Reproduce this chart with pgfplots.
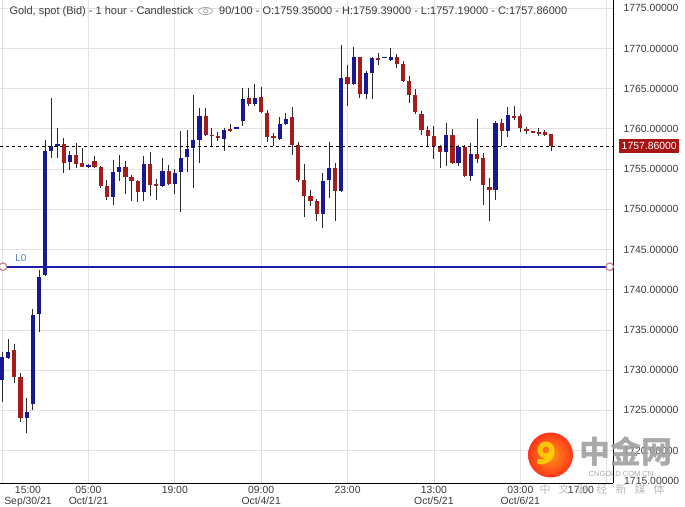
\documentclass[border=0pt]{standalone}
\usepackage{pgfplots}
\pgfplotsset{compat=1.18}
\usepackage{pgfplotstable}
\usepackage{fontspec}
\setmainfont{Liberation Sans}
\newfontfamily\cjk{Noto Sans CJK SC}
\definecolor{upc}{HTML}{181896}
\definecolor{dnc}{HTML}{A51C1C}
\definecolor{wickc}{HTML}{2A2A2A}
\definecolor{gridc}{HTML}{E2E2E2}
\definecolor{labc}{HTML}{3A3A3A}
\definecolor{l0c}{HTML}{1E1EA8}
\definecolor{l0txt}{HTML}{5B7FC0}
\definecolor{ringc}{HTML}{C07080}
\definecolor{boxc}{HTML}{A81414}
\definecolor{wmgray}{HTML}{A0A0A0}

\pgfplotstableread{
i o h l c
0 1728.8 1732.3 1726.1 1731.6
1 1731.5 1733.9 1731.4 1732.3
4 1724.1 1726.5 1722.2 1724.8
5 1725.8 1737.6 1725.1 1736.9
6 1737.0 1742.5 1734.8 1741.6
7 1741.9 1758.6 1741.7 1757.2
8 1757.3 1763.9 1756.4 1757.9
9 1757.9 1760.1 1756.4 1758.1
11 1755.9 1757.2 1754.9 1756.8
14 1755.3 1755.6 1755.2 1755.5
18 1751.5 1756.2 1750.5 1754.6
19 1754.6 1756.8 1753.5 1755.3
23 1752.1 1756.6 1751.0 1755.6
26 1752.9 1756.4 1752.8 1754.8
28 1753.2 1755.0 1751.9 1754.5
29 1754.6 1759.7 1749.7 1756.4
30 1756.5 1759.9 1754.6 1757.5
31 1757.6 1764.2 1752.7 1758.6
32 1758.6 1762.6 1755.8 1761.6
36 1758.8 1760.1 1757.2 1759.8
38 1760.0 1760.2 1760.0 1760.2
39 1761.0 1765.1 1760.3 1763.7
41 1763.1 1765.6 1762.8 1763.9
45 1758.8 1761.5 1758.6 1760.6
46 1760.6 1762.0 1760.5 1761.3
52 1749.4 1754.5 1747.7 1753.5
53 1753.6 1758.4 1751.4 1755.1
55 1752.3 1770.5 1752.2 1766.4
57 1765.6 1770.2 1765.5 1769.0
59 1764.3 1767.2 1763.7 1767.0
60 1767.0 1769.0 1763.7 1768.8
62 1768.8 1769.0 1768.8 1769.0
63 1768.6 1770.0 1768.4 1768.9
72 1757.1 1760.7 1755.4 1759.2
74 1755.8 1758.0 1755.4 1757.8
76 1754.2 1758.2 1753.5 1756.9
80 1752.4 1761.0 1751.2 1760.7
82 1759.8 1762.7 1759.0 1761.7
}\up

\pgfplotstableread{
i o h l c
2 1732.5 1733.2 1728.4 1729.2
3 1729.2 1729.7 1723.6 1724.1
10 1758.1 1758.9 1754.5 1755.8
12 1756.8 1758.2 1755.1 1755.7
13 1755.7 1757.6 1755.2 1755.3
15 1756.0 1756.6 1755.2 1755.3
16 1755.3 1755.4 1752.6 1752.9
17 1752.9 1753.7 1751.1 1751.5
20 1755.3 1756.0 1751.9 1754.0
21 1754.0 1754.3 1751.0 1753.5
22 1753.5 1753.6 1750.9 1752.1
24 1755.6 1757.1 1751.7 1753.0
25 1753.1 1753.8 1751.2 1752.9
27 1754.8 1755.5 1753.0 1753.2
33 1761.6 1762.6 1759.1 1759.3
34 1759.3 1760.1 1757.9 1759.1
35 1759.1 1759.6 1758.5 1758.9
37 1760.0 1760.6 1759.6 1759.8
40 1763.8 1765.1 1762.8 1763.1
42 1764.0 1765.2 1762.0 1762.1
43 1762.0 1762.4 1758.4 1759.0
44 1759.1 1759.5 1757.9 1758.9
47 1761.5 1762.7 1756.8 1758.0
48 1758.0 1758.4 1753.4 1753.6
49 1753.6 1755.6 1749.0 1751.6
50 1751.6 1752.4 1750.4 1751.0
51 1751.0 1751.3 1748.6 1749.4
54 1755.2 1755.8 1748.6 1752.3
56 1766.5 1767.9 1762.8 1765.6
58 1769.0 1769.0 1763.8 1764.4
61 1768.8 1769.5 1767.9 1768.6
64 1768.9 1769.3 1767.6 1768.1
65 1768.1 1768.4 1765.9 1766.0
66 1766.0 1766.6 1763.2 1764.2
67 1764.2 1765.0 1761.8 1762.1
68 1761.8 1762.2 1759.3 1759.9
69 1759.9 1760.3 1757.8 1759.1
70 1759.1 1760.4 1756.3 1757.9
71 1757.9 1758.0 1755.1 1757.1
73 1759.2 1760.0 1755.7 1755.8
75 1757.8 1758.0 1754.0 1754.1
77 1756.9 1761.3 1755.8 1756.3
78 1756.4 1757.0 1750.5 1753.0
79 1752.8 1753.9 1748.5 1752.4
81 1760.7 1761.2 1757.9 1759.7
83 1761.6 1762.9 1761.1 1761.4
84 1761.6 1761.8 1759.6 1760.1
85 1760.0 1760.3 1759.4 1759.8
86 1759.7 1759.7 1759.5 1759.5
87 1759.6 1760.1 1759.1 1759.4
88 1759.6 1759.8 1759.1 1759.2
89 1759.35 1759.39 1757.19 1757.86
}\down

\begin{document}
\begin{tikzpicture}
\path[use as bounding box] (0,0) rectangle (685pt,506pt);
\begin{axis}[
  at={(0pt,23pt)}, anchor=south west,
  width=613pt, height=483pt, scale only axis,
  xmin=-0.33, xmax=99.03, ymin=1715.96, ymax=1776.03,
  axis x line*=bottom, axis y line*=right,
  axis line style={black, line width=1pt},
  major tick length=0pt,
  xtick={0,14,...,98},
  xticklabels={,{05:00\\Oct/1/21},{19:00},{09:00\\Oct/4/21},{23:00},{13:00\\Oct/5/21},{03:00\\Oct/6/21},},
  xticklabel style={align=center, font=\fontsize{10.4}{10.5}\selectfont, text=labc},
  ytick={1720,1725,...,1775},
  yticklabels={1720.00000,1725.00000,1730.00000,1735.00000,1740.00000,1745.00000,1750.00000,1755.00000,1760.00000,1765.00000,1770.00000,1775.00000},
  yticklabel style={font=\fontsize{10.4}{12}\selectfont, text=labc, xshift=7pt},
  grid=major, major grid style={draw=gridc, line width=0.8pt},
  clip=true,
]
% wicks
\addplot[draw=none, mark=none, forget plot,
  error bars/.cd, y dir=both, y explicit, error mark=none,
  error bar style={draw=wickc, line width=1pt, solid}]
  table[x=i, y expr={(\thisrow{h}+\thisrow{l})/2}, y error expr={(\thisrow{h}-\thisrow{l})/2}] {\up};
\addplot[draw=none, mark=none, forget plot,
  error bars/.cd, y dir=both, y explicit, error mark=none,
  error bar style={draw=wickc, line width=1pt, solid}]
  table[x=i, y expr={(\thisrow{h}+\thisrow{l})/2}, y error expr={(\thisrow{h}-\thisrow{l})/2}] {\down};
% bodies
\addplot[draw=none, mark=none, forget plot,
  error bars/.cd, y dir=both, y explicit, error mark=none,
  error bar style={draw=upc, line width=4.2pt, solid}]
  table[x=i, y expr={(\thisrow{o}+\thisrow{c})/2}, y error expr={abs(\thisrow{c}-\thisrow{o})/2}] {\up};
\addplot[draw=none, mark=none, forget plot,
  error bars/.cd, y dir=both, y explicit, error mark=none,
  error bar style={draw=dnc, line width=4.2pt, solid}]
  table[x=i, y expr={(\thisrow{o}+\thisrow{c})/2}, y error expr={abs(\thisrow{c}-\thisrow{o})/2}] {\down};
% current price line
\addplot[black, line width=0.8pt, dash pattern=on 3pt off 3pt] coordinates {(-0.33,1757.86) (99.03,1757.86)};
% L0 line
\addplot[l0c, line width=2pt, mark=*, mark size=3.8pt, mark options={solid, fill=white, draw=ringc, line width=1pt}]
  coordinates {(0.16,1742.86) (98.5,1742.86)};
\coordinate (cur) at (axis cs:99.03,1757.86);
\coordinate (l0) at (axis cs:1.0,1742.86);
\end{axis}
% clamped first/last x labels
\node[anchor=north, align=center, inner sep=0.333em, font=\fontsize{10.4}{10.5}\selectfont, text=labc] at (28pt,23pt) {15:00\\Sep/30/21};
\node[anchor=north, align=center, inner sep=0.333em, font=\fontsize{10.4}{10.5}\selectfont, text=labc] at (581pt,23pt) {17:00};
% partly hidden lowest price label
\begin{scope}
\clip (614pt,23pt) rectangle (685pt,40pt);
\node[anchor=west, inner sep=0pt, text=labc, font=\fontsize{10.4}{12}\selectfont] at (624pt,25pt) {1715.00000};
\end{scope}
% current price box
\node[fill=boxc, text=white, anchor=west, inner sep=0pt, minimum width=60pt, minimum height=14pt, font=\fontsize{10.4}{12}\selectfont] at ([xshift=6pt]cur) {1757.86000};
% L0 label
\node[anchor=south west, text=l0txt, font=\fontsize{10}{12}\selectfont, inner sep=0pt] at ([xshift=7pt,yshift=5pt]l0) {L0};
% title
\node[anchor=base west, inner sep=0pt, text=labc, font=\fontsize{11}{13}\selectfont] at (9.3pt,491pt) {Gold, spot (Bid) - 1 hour - Candlestick};
\draw[gray!70, line width=0.7pt] (205.5pt,495pt) ellipse (7pt and 3.6pt);
\draw[gray!70, line width=0.7pt] (205.5pt,495pt) circle (2pt);
\node[anchor=base west, inner sep=0pt, text=labc, font=\fontsize{11}{13}\selectfont] at (219pt,491pt) {90/100 - O:1759.35000 - H:1759.39000 - L:1757.19000 - C:1757.86000};
% watermark
\begin{scope}[opacity=0.9]
\shade[inner color=orange!90!yellow, outer color=red!75!orange] (550.5pt,51pt) circle (22.5pt);
\draw[yellow!70!orange, line width=5pt] (546pt,56pt) circle (6pt);
\draw[yellow!70!orange, line width=5pt] (552pt,55pt) arc (0:-110:11pt);
\node[text=wmgray, font=\cjk\bfseries\fontsize{31}{33}\selectfont, inner sep=0pt] at (626pt,54pt) {中金网};
\node[text=wmgray, font=\fontsize{7.5}{9}\selectfont, inner sep=0pt] at (621pt,32pt) {CNGOLD.COM.CN};
\node[text=wmgray!80, font=\cjk\fontsize{11}{13}\selectfont, inner sep=0pt] at (602pt,17pt) {中\hspace{8pt}文\hspace{8pt}财\hspace{8pt}经\hspace{8pt}新\hspace{8pt}媒\hspace{8pt}体};
\end{scope}
\end{tikzpicture}
\end{document}
